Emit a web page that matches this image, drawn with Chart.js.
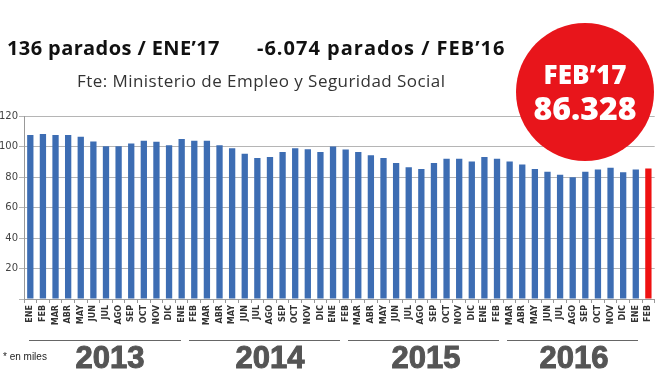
<!DOCTYPE html>
<html>
<head>
<meta charset="utf-8">
<script src="https://cdn.jsdelivr.net/npm/chart.js@4/dist/chart.umd.min.js"></script>
<style>
  html, body { margin:0; padding:0; background:#fff; }
  #wrap { position:relative; width:660px; height:371px; overflow:hidden; }
  #c { position:absolute; left:0; top:0; }
  .t { position:absolute; white-space:nowrap; }
  #title1, #title2 { top:35px; font-family:"Open Sans", sans-serif; font-weight:700; font-size:20px; letter-spacing:0.4px; color:#111; line-height:26px; }
  #title1 { left:7px; }
  #title2 { left:257px; letter-spacing:1px; }
  #sub { left:77px; top:69px; font-family:"Open Sans", sans-serif; font-size:17px; letter-spacing:0.45px; color:#333; line-height:24px; }
  #circle { position:absolute; left:516px; top:23px; width:138px; height:138px; border-radius:50%; background:#e8151b; z-index:5; }
  #c1 { left:0; width:138px; top:36px; text-align:center; font-family:"Open Sans", sans-serif; font-weight:800; font-size:26px; color:#fff; line-height:30px; }
  #c2 { left:0; width:138px; top:66px; text-align:center; font-family:"Open Sans", sans-serif; font-weight:800; font-size:32px; color:#fff; line-height:38px; }
  .line { position:absolute; top:340px; height:1px; background:#666; }
  .yr { top:343px; font-family:"Liberation Sans", Arial, sans-serif; font-weight:700; font-size:31px; color:#555; line-height:30px; text-align:center; width:120px; -webkit-text-stroke:1px #555; }
  #miles { left:3px; top:351px; font-family:"Liberation Sans", Arial, sans-serif; font-size:10px; color:#222; line-height:12px; }
</style>
</head>
<body>
<div id="wrap">
  <canvas id="c" width="660" height="371"></canvas>
  <div class="t" id="title1">136 parados / ENE’17</div>
  <div class="t" id="title2">-6.074 parados / FEB’16</div>
  <div class="t" id="sub">Fte: Ministerio de Empleo y Seguridad Social</div>
  <div id="circle">
    <div class="t" id="c1">FEB’17</div>
    <div class="t" id="c2">86.328</div>
  </div>
  <div class="line" style="left:29px;width:152px"></div>
  <div class="line" style="left:189px;width:151px"></div>
  <div class="line" style="left:348px;width:151px"></div>
  <div class="line" style="left:507px;width:131px"></div>
  <div class="t yr" style="left:50px">2013</div>
  <div class="t yr" style="left:210px">2014</div>
  <div class="t yr" style="left:366px">2015</div>
  <div class="t yr" style="left:514px">2016</div>
  <div class="t" id="miles">* en miles</div>
</div>
<script>
const months = ["ENE","FEB","MAR","ABR","MAY","JUN","JUL","AGO","SEP","OCT","NOV","DIC"];
const categories = [].concat(months, months, months, months, ["ENE","FEB"]);
const values2013 = [107.5,108.2,107.5,107.5,106.4,103.3,100.2,100.2,102.0,103.8,103.1,100.9];
const values2014 = [104.9,103.8,103.8,100.9,98.9,95.3,92.4,93.1,96.4,98.9,98.2,96.4];
const values2015 = [100.0,98.0,96.4,94.2,92.4,89.1,86.4,85.3,89.1,92.0,92.0,90.2];
const values2016 = [93.1,92.0,90.2,88.2,85.3,83.5,81.5,79.8,83.5,84.9,86.0,83.1];
const values2017 = [84.9,85.5];
const yTicks = [0,20,40,60,80,100,120];

const values = [].concat(values2013, values2014, values2015, values2016, values2017);
const blue = '#3d6db3', red = '#ee1111';
const colors = values.map((v,i) => i === values.length-1 ? red : blue);

new Chart(document.getElementById('c'), {
  type: 'bar',
  data: { labels: categories, datasets: [{ data: values, backgroundColor: colors, borderWidth: 0, barPercentage: 0.5, categoryPercentage: 1.0 }] },
  options: {
    responsive: false, animation: false, devicePixelRatio: 1,
    layout: { padding: { top: 116, right: 1, bottom: 0, left: 0 } },
    plugins: { legend: { display: false }, tooltip: { enabled: false }, title: { display: false } },
    scales: {
      x: {
        afterFit: s => { s.height = 72; },
        grid: { drawOnChartArea: false, drawTicks: true, tickLength: 4, color: '#999', offset: true },
        border: { color: '#999' },
        ticks: { autoSkip: false, minRotation: 90, maxRotation: 90, padding: 2, color: '#333',
                 font: { family: 'DejaVu Sans', size: 8, weight: 'bold' } }
      },
      y: {
        min: 0, max: 120,
        afterFit: s => { s.width = 24; },
        afterBuildTicks: s => { s.ticks = yTicks.map(v => ({ value: v })); },
        grid: { color: '#b5b5b5', tickLength: 5, drawTicks: true },
        border: { color: '#999' },
        ticks: { padding: 1, color: '#444', callback: v => v === 0 ? '' : v,
                 font: { family: 'DejaVu Sans', size: 10 } }
      }
    }
  }
});
</script>
</body>
</html>
